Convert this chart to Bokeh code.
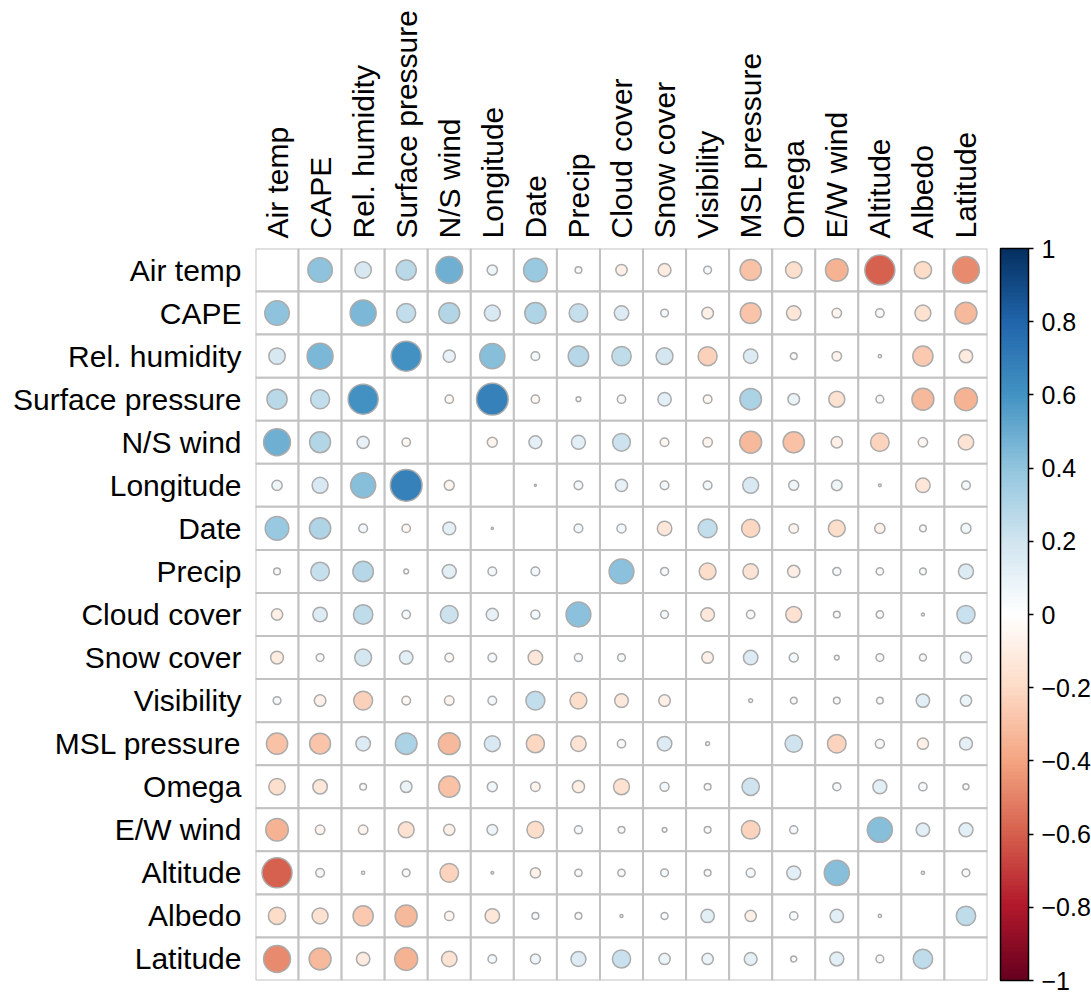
import numpy as np
from bokeh.plotting import figure
from bokeh.models import (ColumnDataSource, LinearColorMapper, ColorBar, FixedTicker,
                          CustomJSTickFormatter, FactorRange)
from bokeh.embed import file_html
from bokeh.resources import INLINE

variables = ["Air temp", "CAPE", "Rel. humidity", "Surface pressure", "N/S wind",
             "Longitude", "Date", "Precip", "Cloud cover", "Snow cover", "Visibility",
             "MSL pressure", "Omega", "E/W wind", "Altitude", "Albedo", "Latitude"]

# upper triangle: correlation of each variable with the variables that follow it
r_air_temp = [0.40, 0.18, 0.27, 0.48, 0.07, 0.37, 0.03, -0.085, -0.11, 0.04, -0.30, -0.18, -0.34, -0.60, -0.20, -0.48]
r_cape = [0.45, 0.24, 0.29, 0.17, 0.30, 0.23, 0.14, 0.04, -0.09, -0.29, -0.14, -0.06, 0.05, -0.17, -0.32]
r_rel_humidity = [0.60, 0.10, 0.42, 0.05, 0.28, 0.25, 0.19, -0.24, 0.14, 0.03, -0.06, 0.007, -0.27, -0.12]
r_surface_pressure = [-0.046, 0.67, -0.046, 0.015, 0.046, 0.12, -0.05, 0.31, 0.09, -0.17, 0.04, -0.32, -0.35]
r_ns_wind = [-0.067, 0.11, 0.13, 0.21, -0.05, -0.06, -0.32, -0.30, -0.085, -0.23, -0.058, -0.16]
r_longitude = [0.003, 0.05, 0.10, 0.05, 0.05, 0.17, 0.067, 0.076, 0.005, -0.14, 0.05]
r_date = [0.05, 0.054, -0.14, 0.24, -0.22, -0.06, -0.19, -0.07, 0.03, 0.067]
r_precip = [0.41, 0.043, -0.19, -0.16, -0.10, 0.043, 0.036, 0.03, 0.15]
r_cloud_cover = [0.04, -0.125, 0.046, -0.17, 0.03, 0.036, 0.006, 0.22]
r_snow_cover = [-0.09, 0.14, 0.054, 0.015, 0.04, 0.033, 0.085]
r_visibility = [0.01, 0.03, 0.03, 0.03, 0.12, 0.085]
r_msl_pressure = [0.20, -0.23, 0.054, -0.085, 0.11]
r_omega = [0.043, 0.13, 0.046, 0.024]
r_ew_wind = [0.42, 0.12, 0.13]
r_altitude = [0.007, 0.04]
r_albedo = [0.25]

colorbar_ticks = [-1, -0.8, -0.6, -0.4, -0.2, 0, 0.2, 0.4, 0.6, 0.8, 1]

upper = [r_air_temp, r_cape, r_rel_humidity, r_surface_pressure, r_ns_wind, r_longitude,
         r_date, r_precip, r_cloud_cover, r_snow_cover, r_visibility, r_msl_pressure,
         r_omega, r_ew_wind, r_altitude, r_albedo]

n = len(variables)
M = np.full((n, n), np.nan)
for i, rowvals in enumerate(upper):
    for k, v in enumerate(rowvals):
        j = i + 1 + k
        M[i, j] = v
        M[j, i] = v

# RdBu palette (corrplot style), 200 steps
anchors = ["#67001F", "#B2182B", "#D6604D", "#F4A582", "#FDDBC7", "#FFFFFF",
           "#D1E5F0", "#92C5DE", "#4393C3", "#2166AC", "#053061"]
def hex2rgb(h):
    return np.array([int(h[1:3], 16), int(h[3:5], 16), int(h[5:7], 16)], float)
arr = np.array([hex2rgb(a) for a in anchors])
pos = np.linspace(0, 1, len(anchors))
palette = []
for t in np.linspace(0, 1, 200):
    rgb = [np.interp(t, pos, arr[:, c]) for c in range(3)]
    palette.append("#%02x%02x%02x" % tuple(int(round(c)) for c in rgb))

mapper = LinearColorMapper(palette=palette, low=-1, high=1)

gx, gy = [], []
cx, cy, cr, crad = [], [], [], []
for i in range(n):
    for j in range(n):
        gx.append(variables[j]); gy.append(variables[i])
        if i != j:
            cx.append(variables[j]); cy.append(variables[i])
            cr.append(M[i, j]); crad.append(0.45 * np.sqrt(abs(M[i, j])))

grid_src = ColumnDataSource(dict(x=gx, y=gy))
circ_src = ColumnDataSource(dict(x=cx, y=cy, r=cr, rad=crad))

p = figure(x_range=FactorRange(factors=variables),
           y_range=FactorRange(factors=list(reversed(variables))),
           frame_width=732, frame_height=732,
           min_border_left=255, min_border_top=248, min_border_bottom=14, min_border_right=10,
           x_axis_location="above", toolbar_location=None, output_backend="svg")

p.rect(x="x", y="y", width=1, height=1, source=grid_src,
       fill_color="white", line_color="#C2C2C2", line_width=2)
p.circle(x="x", y="y", radius="rad", source=circ_src,
         fill_color={"field": "r", "transform": mapper},
         line_color="#ABABAB", line_width=1.5)

for ax in (p.xaxis[0], p.yaxis[0]):
    ax.axis_line_color = None
    ax.major_tick_line_color = None
    ax.minor_tick_line_color = None
    ax.major_tick_in = 0
    ax.major_tick_out = 0
    ax.major_label_text_font = "Liberation Sans"
    ax.major_label_text_font_size = "30px"
    ax.major_label_text_color = "black"
p.xaxis.major_label_orientation = "vertical"
p.xaxis.major_label_standoff = 10
p.yaxis.major_label_standoff = 14

p.xgrid.grid_line_color = None
p.ygrid.grid_line_color = None
p.outline_line_color = None

cb = ColorBar(color_mapper=mapper,
              ticker=FixedTicker(ticks=colorbar_ticks),
              formatter=CustomJSTickFormatter(code='return tick < 0 ? "\\u2212" + (-tick) : "" + tick;'),
              width=28, height=732, padding=0, margin=0, location=(13, 0),
              major_tick_in=0, major_tick_out=5, major_tick_line_color="black",
              major_tick_line_width=1.5, minor_tick_line_color=None,
              bar_line_color="black", bar_line_width=1.5,
              major_label_text_font="Liberation Sans", major_label_text_font_size="25px",
              major_label_text_color="black", label_standoff=8,
              background_fill_color=None, border_line_color=None)
p.add_layout(cb, "right")

open("out.html", "w", encoding="utf-8").write(file_html(p, INLINE))
